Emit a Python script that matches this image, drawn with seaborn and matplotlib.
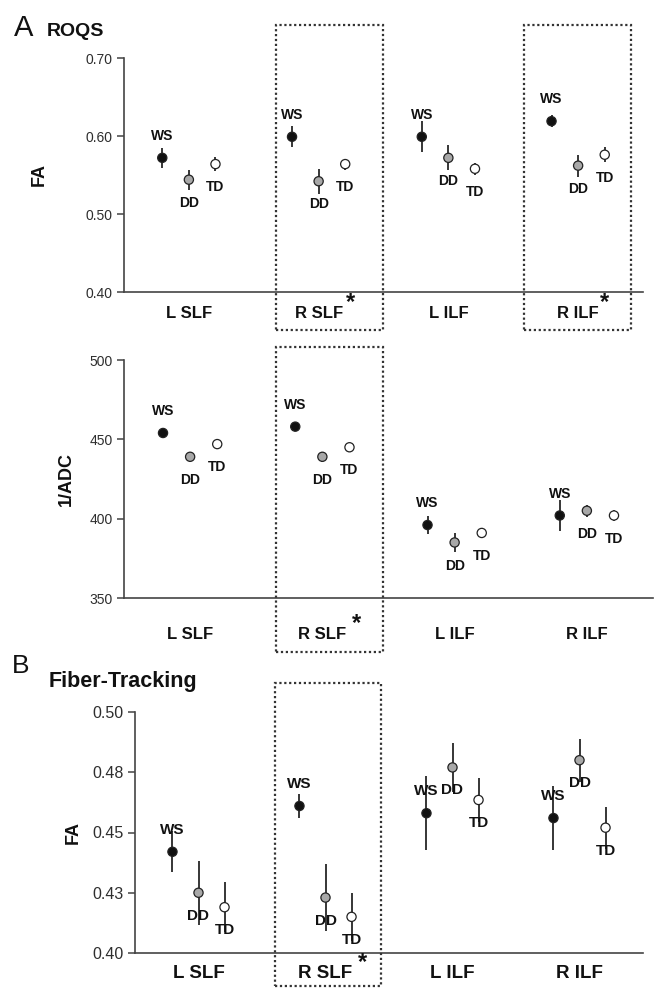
import numpy as np
import pandas as pd
import seaborn as sns
import matplotlib
matplotlib.use("Agg")
import matplotlib.pyplot as plt
from matplotlib.patches import Rectangle

# ---- data ----
tracts = ['L SLF', 'R SLF', 'L ILF', 'R ILF']
groups = ['WS', 'DD', 'TD']

# A, ROQS, FA
roqs_fa_ws = [0.572, 0.599, 0.599, 0.619]
roqs_fa_dd = [0.544, 0.542, 0.572, 0.562]
roqs_fa_td = [0.564, 0.564, 0.558, 0.576]
roqs_fa_ws_err = [0.013, 0.0135, 0.020, 0.008]
roqs_fa_dd_err = [0.013, 0.016, 0.016, 0.014]
roqs_fa_td_err = [0.009, 0.007, 0.008, 0.0095]

# A, ROQS, 1/ADC
roqs_adc_ws = [454, 458, 396, 402]
roqs_adc_dd = [439, 439, 385, 405]
roqs_adc_td = [447, 445, 391, 402]
roqs_adc_ws_err = [3, 2.5, 5.4, 10]
roqs_adc_dd_err = [3, 3, 5.7, 3.7]
roqs_adc_td_err = [2, 2, 2.5, 3.7]

# B, fiber tracking, FA
ft_fa_ws = [0.442, 0.461, 0.458, 0.456]
ft_fa_dd = [0.425, 0.423, 0.477, 0.480]
ft_fa_td = [0.419, 0.415, 0.4635, 0.452]
ft_fa_ws_err = [0.0085, 0.005, 0.0154, 0.0133]
ft_fa_dd_err = [0.0133, 0.014, 0.010, 0.009]
ft_fa_td_err = [0.0104, 0.010, 0.009, 0.0087]

fa_ticks = [0.40, 0.50, 0.60, 0.70]
fa_ticklabels = ['0.40', '0.50', '0.60', '0.70']
adc_ticks = [350, 400, 450, 500]
adc_ticklabels = ['350', '400', '450', '500']
ft_ticks = [0.40, 0.425, 0.45, 0.475, 0.50]
ft_ticklabels = ['0.40', '0.43', '0.45', '0.48', '0.50']

W, H = 655, 989
sns.set_theme(style='ticks')
plt.rcParams['font.family'] = ['Liberation Sans', 'DejaVu Sans']

fig = plt.figure(figsize=(W / 100, H / 100), dpi=100)
fig.patch.set_facecolor('white')


def rect(l, t, r, b):
    return [l / W, 1 - b / H, (r - l) / W, (b - t) / H]


pal = {'WS': '#111111', 'DD': '#a8a8a8', 'TD': '#ffffff'}
offs = {'WS': -0.205, 'DD': 0.0, 'TD': 0.205}
lab_dy = {'WS': 15.8, 'DD': -16.6, 'TD': -16.6}


def make_df(ws, dd, td, ws_e, dd_e, td_e):
    rows = []
    for g, v, e in zip(groups, [ws, dd, td], [ws_e, dd_e, td_e]):
        for i, t in enumerate(tracts):
            rows.append([t, g, v[i], e[i], i + offs[g]])
    return pd.DataFrame(rows, columns=['tract', 'group', 'value', 'err', 'xpos'])


def panel(box, df, ylim, ticks, ticklabels, ylabel, ylab_x, tick_fs, cat_fs, cat_pad, lab_fs):
    ax = fig.add_axes(rect(*box))
    ax.errorbar(df['xpos'], df['value'], yerr=df['err'], fmt='none',
                ecolor='#262626', elinewidth=1.3, capsize=0, zorder=2)
    sns.scatterplot(data=df, x='xpos', y='value', hue='group', palette=pal,
                    s=44, edgecolor='#222222', linewidth=0.9, legend=False,
                    zorder=3, ax=ax)
    for _, r in df.iterrows():
        ax.annotate(r['group'], (r['xpos'], r['value']), xytext=(0, lab_dy[r['group']]),
                    textcoords='offset points', ha='center', va='center',
                    fontsize=lab_fs, fontweight='bold', color='#111111')
    ax.set_xlim(-0.5, 3.5)
    ax.set_ylim(*ylim)
    ax.set_xticks(range(len(tracts)))
    ax.set_xticklabels(tracts, fontsize=cat_fs, fontweight='bold', color='#111111')
    ax.set_yticks(ticks)
    ax.set_yticklabels(ticklabels, fontsize=tick_fs, color='#2e2e2e')
    ax.tick_params(axis='x', length=0, pad=cat_pad)
    ax.tick_params(axis='y', length=5, width=1.1, color='#444444', pad=3)
    ax.set_xlabel('')
    ax.set_ylabel(ylabel, fontsize=13, fontweight='bold', color='#111111')
    ax.yaxis.set_label_coords(ylab_x, 0.5)
    sns.despine(ax=ax)
    for s in ['left', 'bottom']:
        ax.spines[s].set_color('#444444')
        ax.spines[s].set_linewidth(1.2)
    ax.set_facecolor('white')
    return ax


df1 = make_df(roqs_fa_ws, roqs_fa_dd, roqs_fa_td, roqs_fa_ws_err, roqs_fa_dd_err, roqs_fa_td_err)
df2 = make_df(roqs_adc_ws, roqs_adc_dd, roqs_adc_td, roqs_adc_ws_err, roqs_adc_dd_err, roqs_adc_td_err)
df3 = make_df(ft_fa_ws, ft_fa_dd, ft_fa_td, ft_fa_ws_err, ft_fa_dd_err, ft_fa_td_err)

panel((124, 58, 643, 292), df1, (0.40, 0.70), fa_ticks, fa_ticklabels, 'FA', -0.146, 10, 12, 10, 10)
panel((124, 360, 653, 598), df2, (350, 500), adc_ticks, adc_ticklabels, '1/ADC', -0.093, 10, 12, 21, 10)
panel((135, 712, 643, 953), df3, (0.40, 0.50), ft_ticks, ft_ticklabels, 'FA', -0.104, 11.5, 13.5, 9, 11)

# dotted boxes around significant tracts (figure pixels)
boxes = [(276, 25, 383, 330), (524, 25, 631, 330), (276, 347, 383, 652), (275, 683, 381, 986)]
for l, t, r, b in boxes:
    fig.patches.append(Rectangle((l / W, 1 - b / H), (r - l) / W, (b - t) / H,
                                 transform=fig.transFigure, fill=False,
                                 edgecolor='#333333', linewidth=1.6,
                                 linestyle=(0, (1, 1.2)), zorder=5))

for x, y in [(350, 303), (605, 303), (357, 624), (363, 963)]:
    fig.text(x / W, 1 - y / H, '*', fontsize=17, fontweight='bold',
             ha='center', va='center', color='#111111')

fig.text(24 / W, 1 - 28 / H, 'A', fontsize=21, ha='center', va='center', color='#111111')
fig.text(47 / W, 1 - 32 / H, 'ROQS', fontsize=14, fontweight='bold', ha='left', va='center', color='#111111')
fig.text(21 / W, 1 - 666 / H, 'B', fontsize=19, ha='center', va='center', color='#111111')
fig.text(49 / W, 1 - 681 / H, 'Fiber-Tracking', fontsize=15.5, fontweight='bold', ha='left', va='center', color='#111111')

fig.savefig('out.png', dpi=100, facecolor='white')
